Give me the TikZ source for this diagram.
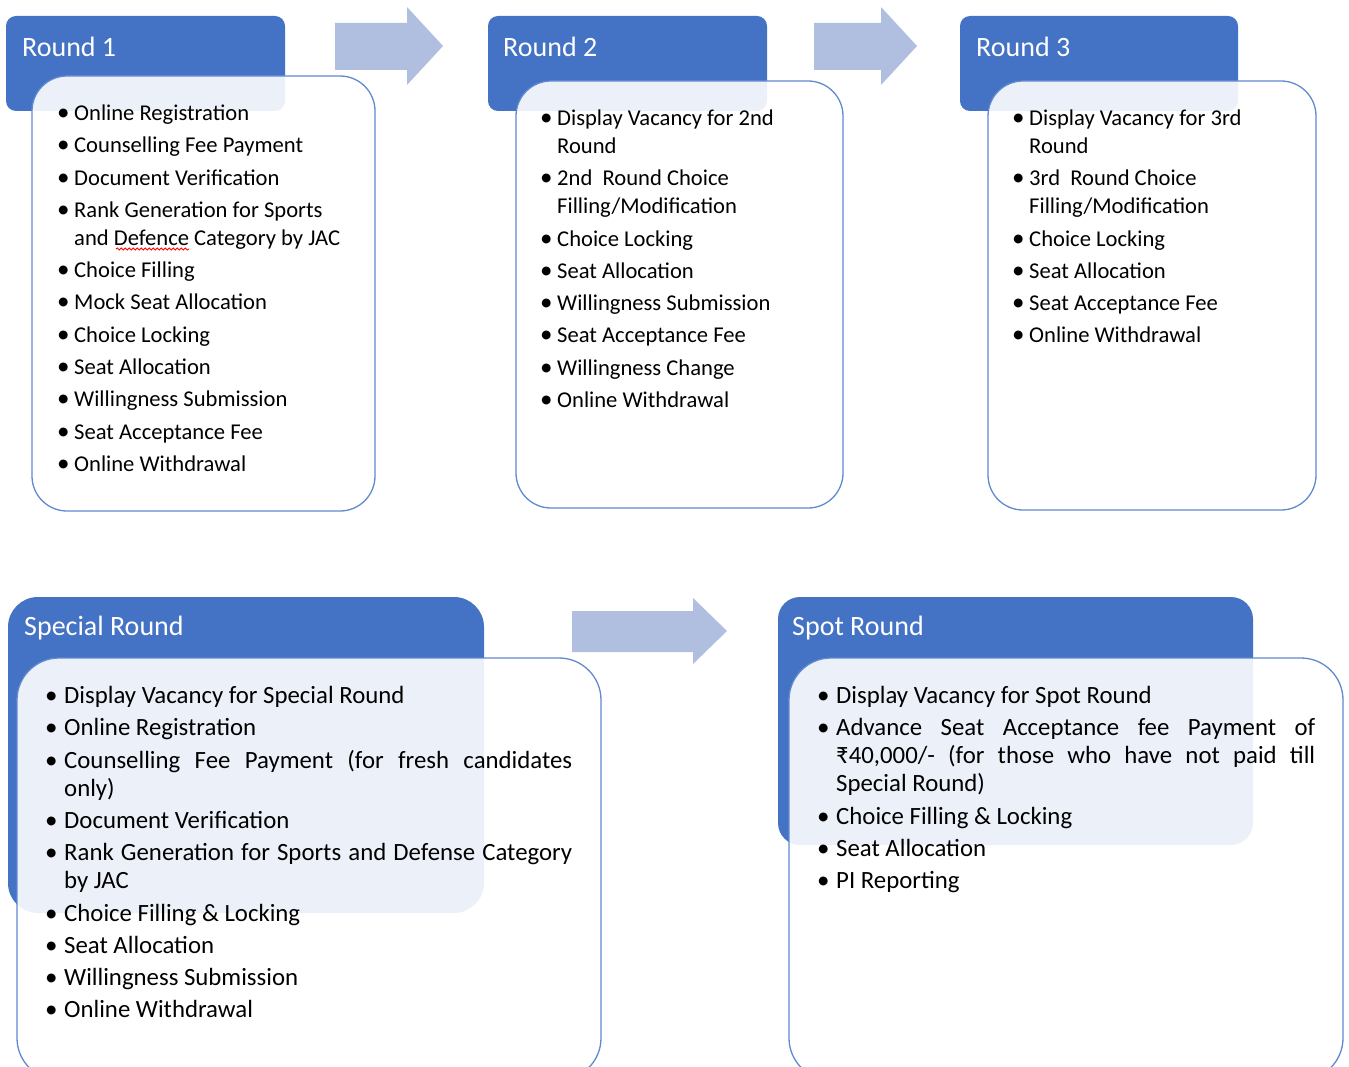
\documentclass[tikz,border=0pt]{standalone}
\usepackage{fontspec}
\setmainfont{Carlito}
\usetikzlibrary{decorations.pathmorphing}
\definecolor{hdr}{HTML}{4472C4}
\definecolor{bord}{HTML}{6089D0}
\definecolor{arr}{HTML}{B0BEDF}
\newlength{\hind}
\newcommand{\bdot}{{\fontsize{25}{28}\selectfont\textbullet}}
\newcommand{\bula}{\noindent\hangindent=\hind\hangafter=1\makebox[\hind][l]{\bdot}}
\newcommand{\bul}{\par\vspace{4.3pt}\noindent\hangindent=\hind\hangafter=1\makebox[\hind][l]{\bdot}}
\newcommand{\lsetup}[1]{\setlength{\hind}{#1}\spaceskip=0.226em plus 0.15em minus 0.05em\relax
  \hyphenpenalty=10000\exhyphenpenalty=10000\tolerance=10000\relax}
\tikzset{
  hdrbox/.style={fill=hdr, draw=none, rounded corners=#1},
  bodybox/.style={fill=white, fill opacity=0.9, draw=bord, draw opacity=1, line width=1.3pt, rounded corners=#1},
  ttl/.style={anchor=base west, text=white, inner sep=0pt, font=\fontsize{28}{34}\selectfont},
  lst/.style={anchor=base west, inner sep=0pt, text width=#1, align=left,
    font=\fontsize{22.6}{28}\selectfont},
  jlst/.style={anchor=base west, inner sep=0pt, text width=#1, align=justify,
    font=\fontsize{24.8}{28}\selectfont},
  bigarrow/.style={fill=arr, draw=none},
  squiggle/.style={draw=red, line width=0.8pt, decorate, decoration={snake, amplitude=1.1pt, segment length=4pt}},
}
\begin{document}
\begin{tikzpicture}[x=1pt,y=-1pt]
\useasboundingbox (0,0) rectangle (1349,1067);
\fill[white] (0,0) rectangle (1349,1067);

% arrows
\fill[bigarrow] (335,23) -- (407,23) -- (407,7) -- (443,46) -- (407,85) -- (407,70) -- (335,70) -- cycle;
\fill[bigarrow] (814,23) -- (881,23) -- (881,7) -- (917,46) -- (881,85) -- (881,70) -- (814,70) -- cycle;
\fill[bigarrow] (572,611) -- (693,611) -- (693,598) -- (727,631) -- (693,664) -- (693,652) -- (572,652) -- cycle;

% Round 1
\fill[hdrbox=10pt] (6,16) rectangle (285,111);
\node[ttl] (t1) at (22,57) {Round 1};
\draw[bodybox=35pt] (32,76) rectangle (375,511);
\node[lst=315pt] (l1) at (57,120.5) {\lsetup{17pt}%
\bula Online Registration
\bul Counselling Fee Payment
\bul Document Verification
\bul Rank Generation for Sports\newline and Defence Category by JAC
\bul Choice Filling
\bul Mock Seat Allocation
\bul Choice Locking
\bul Seat Allocation
\bul Willingness Submission
\bul Seat Acceptance Fee
\bul Online Withdrawal};
\draw[squiggle] (116,249) -- (189,249);

% Round 2
\fill[hdrbox=10pt] (488,16) rectangle (767,111);
\node[ttl] (t2) at (503,57) {Round 2};
\draw[bodybox=35pt] (516,81) rectangle (843,508);
\node[lst=290pt] (l2) at (540,125.5) {\lsetup{17pt}%
\bula Display Vacancy for 2nd\newline Round
\bul 2nd\ \ Round Choice\newline Filling/Modification
\bul Choice Locking
\bul Seat Allocation
\bul Willingness Submission
\bul Seat Acceptance Fee
\bul Willingness Change
\bul Online Withdrawal};

% Round 3
\fill[hdrbox=10pt] (960,16) rectangle (1238,111);
\node[ttl] (t3) at (976,57) {Round 3};
\draw[bodybox=35pt] (988,81) rectangle (1316,510);
\node[lst=290pt] (l3) at (1012,125.5) {\lsetup{17pt}%
\bula Display Vacancy for 3rd\newline Round
\bul 3rd\ \ Round Choice\newline Filling/Modification
\bul Choice Locking
\bul Seat Allocation
\bul Seat Acceptance Fee
\bul Online Withdrawal};

% Special Round
\fill[hdrbox=30pt] (8,597) rectangle (484,913);
\node[ttl] (t4) at (24,635) {Special Round};
\draw[bodybox=42pt] (17,658) rectangle (601,1080);
\node[jlst=527pt] (l4) at (45,703.5) {\lsetup{19pt}%
\bula Display Vacancy for Special Round
\bul Online Registration
\bul Counselling Fee Payment (for fresh candidates\linebreak only)
\bul Document Verification
\bul Rank Generation for Sports and Defense Category\linebreak by JAC
\bul Choice Filling \& Locking
\bul Seat Allocation
\bul Willingness Submission
\bul Online Withdrawal};

% Spot Round
\fill[hdrbox=22pt] (778,597) rectangle (1253,845);
\node[ttl] (t5) at (792,635) {Spot Round};
\draw[bodybox=42pt] (789,658) rectangle (1343,1080);
\node[jlst=498pt] (l5) at (817,703.5) {\lsetup{19pt}%
\bula Display Vacancy for Spot Round
\bul Advance Seat Acceptance fee Payment of\linebreak ₹40,000/- (for those who have not paid till\linebreak Special Round)
\bul Choice Filling \& Locking
\bul Seat Allocation
\bul PI Reporting};
\end{tikzpicture}
\end{document}
